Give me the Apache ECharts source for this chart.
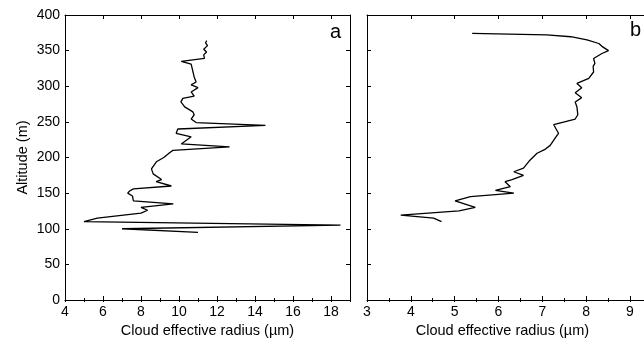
<!DOCTYPE html>
<html>
<head>
<meta charset="utf-8">
<script src="https://cdn.jsdelivr.net/npm/echarts@6/dist/echarts.min.js"></script>
<style>
  html, body { margin: 0; padding: 0; background: #fff; }
  #chart { width: 644px; height: 345px; }
</style>
</head>
<body>
<div id="chart"></div>
<script>
// Profile a: cloud effective radius (µm) vs altitude (m)
const radiusA = [11.0, 7.0, 18.5, 5.0, 5.7, 8.0, 8.35, 8.0, 9.7, 7.6, 7.55, 7.3, 7.4, 7.6, 9.6,
  8.8, 9.08, 8.64, 8.55, 8.81, 9.2, 9.52, 9.68, 12.66, 10.12, 10.64, 9.85, 9.94, 14.55,
  10.9, 10.64, 10.8, 10.73, 10.3, 10.1, 10.2, 10.8, 10.64, 11.0, 10.64, 10.9, 10.8, 10.64,
  10.12, 11.34, 11.3, 11.45, 11.3, 11.5, 11.4, 11.46];
const altitudeA = [95, 100, 105, 110, 115, 122, 126, 130, 135, 139, 146, 150, 153, 156, 160,
  166, 169, 177, 184, 194, 200, 207, 210, 215, 219, 229, 234, 240, 245,
  249, 254, 260, 264, 271, 278, 283, 286, 292, 298, 302, 306, 313, 331,
  335, 339, 344, 348, 352, 357, 361, 364];

// Profile b
const radiusB = [4.70, 4.52, 3.77, 5.1, 5.47, 5.01, 5.36, 6.35, 5.93, 6.27, 6.15, 6.31, 6.57,
  6.35, 6.57, 6.7, 6.88, 7.05, 7.18, 7.3, 7.37, 7.26, 7.75, 7.81, 7.79, 7.75, 7.9, 7.75, 7.9,
  7.79, 8.06, 8.17, 8.16, 8.2, 8.17, 8.36, 8.51, 8.36, 8.29, 8.02, 7.65, 7.1, 5.40];
const altitudeB = [110, 115, 119, 125, 130, 139, 145, 150, 154, 159, 166, 169, 175,
  180, 185, 195, 206, 211, 217, 228, 234, 246, 254, 260, 271, 278, 284, 291, 298,
  304, 311, 320, 328, 332, 339, 346, 350, 356, 360, 365, 369.5, 372, 374.3];

// Axis ranges and tick labels
const altTicks = [0, 50, 100, 150, 200, 250, 300, 350, 400];
const radiusTicksA = [4, 6, 8, 10, 12, 14, 16, 18];
const radiusTicksB = [3, 4, 5, 6, 7, 8, 9];
const xTitle = 'Cloud effective radius (µm)';
const yTitle = 'Altitude (m)';

const FONT = '"Liberation Sans", Arial, sans-serif';
const INK = '#000';

function pairs(xs, ys) { return xs.map((x, i) => [x, ys[i]]); }

// one x axis: major (labelled or not) or minor-tick companion
function xAx(grid, pos, min, max, interval, opts) {
  return Object.assign({
    type: 'value', gridIndex: grid, position: pos, min: min, max: max, interval: interval,
    splitLine: { show: false },
    axisLine: { show: true, onZero: false, lineStyle: { color: INK, width: 1 } },
    axisTick: { show: true, inside: true, length: 4, lineStyle: { color: INK, width: 1 } },
    axisLabel: { show: false },
  }, opts);
}
function yAx(grid, pos, opts) {
  return Object.assign({
    type: 'value', gridIndex: grid, position: pos, min: altTicks[0], max: altTicks[altTicks.length - 1],
    interval: altTicks[1] - altTicks[0],
    splitLine: { show: false },
    axisLine: { show: true, onZero: false, lineStyle: { color: INK, width: 1 } },
    axisTick: { show: true, inside: true, length: 4, lineStyle: { color: INK, width: 1 } },
    axisLabel: { show: false },
  }, opts);
}
const minorTick = { show: true, inside: true, length: 2, lineStyle: { color: INK, width: 1 } };

const labelStyle = { show: true, color: INK, fontFamily: FONT, fontSize: 14 };
const nameStyle = { color: INK, fontFamily: FONT, fontSize: 14.5 };

const aMin = radiusTicksA[0], aMax = 19, aStep = radiusTicksA[1] - radiusTicksA[0];
const bMin = radiusTicksB[0], bMax = 10, bStep = radiusTicksB[1] - radiusTicksB[0];

const option = {
  backgroundColor: '#fff',
  animation: false,
  grid: [
    { left: 65, top: 15, width: 285, height: 285, outerBoundsMode: 'none', containLabel: false },
    { left: 367, top: 15, width: 306.8, height: 285, outerBoundsMode: 'none', containLabel: false }
  ],
  xAxis: [
    // panel a
    xAx(0, 'bottom', aMin, aMax, aStep, {
      axisLabel: Object.assign({}, labelStyle, { margin: 5, showMaxLabel: false }),
      name: xTitle, nameLocation: 'middle', nameGap: 20, nameTextStyle: nameStyle
    }),
    xAx(0, 'bottom', aMin, aMax, aStep / 2, { axisLine: { show: false }, axisTick: minorTick }),
    xAx(0, 'top', aMin, aMax, aStep, {}),
    xAx(0, 'top', aMin, aMax, aStep / 2, { axisLine: { show: false }, axisTick: minorTick }),
    // panel b
    xAx(1, 'bottom', bMin, bMax, bStep, {
      axisLabel: Object.assign({}, labelStyle, { margin: 5, showMaxLabel: false }),
      name: xTitle, nameLocation: 'middle', nameGap: 20,
      nameTextStyle: Object.assign({}, nameStyle, { padding: [0, 36, 0, 0] })
    }),
    xAx(1, 'bottom', bMin, bMax, bStep / 2, { axisLine: { show: false }, axisTick: minorTick }),
    xAx(1, 'top', bMin, bMax, bStep, {}),
    xAx(1, 'top', bMin, bMax, bStep / 2, { axisLine: { show: false }, axisTick: minorTick })
  ],
  yAxis: [
    yAx(0, 'left', {
      axisLabel: Object.assign({}, labelStyle, { margin: 5 }),
      name: yTitle, nameLocation: 'middle', nameGap: 35, nameTextStyle: nameStyle
    }),
    yAx(0, 'right', {}),
    yAx(1, 'left', {}),
    yAx(1, 'right', {})
  ],
  graphic: [
    { type: 'text', left: 330, top: 22, style: { text: 'a', font: '20px ' + FONT, fill: INK } },
    { type: 'text', left: 630, top: 20, style: { text: 'b', font: '20px ' + FONT, fill: INK } }
  ],
  series: [
    {
      type: 'line', xAxisIndex: 0, yAxisIndex: 0, data: pairs(radiusA, altitudeA),
      showSymbol: false, symbol: 'none', lineStyle: { color: INK, width: 1.3 }, silent: true
    },
    {
      type: 'line', xAxisIndex: 4, yAxisIndex: 2, data: pairs(radiusB, altitudeB),
      showSymbol: false, symbol: 'none', lineStyle: { color: INK, width: 1.3 }, silent: true
    }
  ]
};

const chart = echarts.init(document.getElementById('chart'), null, { renderer: 'canvas' });
chart.setOption(option);
</script>
</body>
</html>
